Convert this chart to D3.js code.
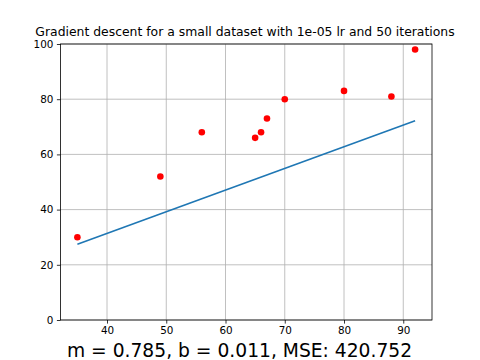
<!DOCTYPE html>
<html>
<head>
<meta charset="utf-8">
<script src="https://cdn.jsdelivr.net/npm/d3@7/dist/d3.min.js"></script>
<style>
  html, body { margin: 0; padding: 0; background: #fff; }
  svg { display: block; font-family: "DejaVu Sans", sans-serif; }
</style>
</head>
<body>
<svg id="chart" width="480" height="360"></svg>
<script>
// Data
var xs = [35, 49, 56, 65, 66, 67, 70, 80, 88, 92];
var ys = [30, 52, 68, 66, 68, 73, 80, 83, 81, 98];
var slope = 0.785, intercept = 0.011;
var xTicks = [40, 50, 60, 70, 80, 90];
var yTicks = [0, 20, 40, 60, 80, 100];
var titleText = 'Gradient descent for a small dataset with 1e-05 lr and 50 iterations';
var footText = 'm = 0.785, b = 0.011, MSE: 420.752';

var svg = d3.select('#chart');
var L = 60.5, R = 432, T = 44, B = 320;

// matplotlib-style 5% margins on x
var xMin = d3.min(xs), xMax = d3.max(xs), pad = (xMax - xMin) * 0.05;
var x = d3.scaleLinear().domain([xMin - pad, xMax + pad]).range([L, R]);
var y = d3.scaleLinear().domain([0, 100]).range([B, T]);

// grid
var grid = svg.append('g').attr('stroke', '#b0b0b0').attr('stroke-width', 0.8);
grid.selectAll('.gx').data(xTicks).enter().append('line')
  .attr('x1', function (d) { return x(d); }).attr('x2', function (d) { return x(d); })
  .attr('y1', T).attr('y2', B);
grid.selectAll('.gy').data(yTicks).enter().append('line')
  .attr('y1', function (d) { return y(d); }).attr('y2', function (d) { return y(d); })
  .attr('x1', L).attr('x2', R);

// axes
var xAxis = svg.append('g').attr('transform', 'translate(0,' + B + ')')
  .call(d3.axisBottom(x).tickValues(xTicks).tickSize(3.6).tickPadding(3.5));
var yAxis = svg.append('g').attr('transform', 'translate(' + L + ',0)')
  .call(d3.axisLeft(y).tickValues(yTicks).tickSize(3.6).tickPadding(3.5));
[xAxis, yAxis].forEach(function (a) {
  a.select('.domain').remove();
  a.selectAll('line').attr('stroke', '#000').attr('stroke-width', 0.8);
  a.selectAll('text').attr('font-size', 10.4).attr('fill', '#000')
    .attr('font-family', '"DejaVu Sans", sans-serif');
});

// regression line
svg.append('path')
  .datum([xMin, xMax])
  .attr('d', d3.line().x(function (d) { return x(d); }).y(function (d) { return y(slope * d + intercept); }))
  .attr('fill', 'none').attr('stroke', '#1f77b4').attr('stroke-width', 1.6);

// points
svg.append('g').selectAll('circle').data(xs).enter().append('circle')
  .attr('cx', function (d) { return x(d); })
  .attr('cy', function (d, i) { return y(ys[i]); })
  .attr('r', 3.3).attr('fill', '#ff0000');

// frame
svg.append('rect').attr('x', L).attr('y', T).attr('width', R - L).attr('height', B - T)
  .attr('fill', 'none').attr('stroke', '#000').attr('stroke-width', 0.8);

// title
svg.append('text').attr('x', 245).attr('y', 36)
  .attr('text-anchor', 'middle').attr('font-size', 12.4).text(titleText);

// bottom label
svg.append('text').attr('x', 239.5).attr('y', 356.5)
  .attr('text-anchor', 'middle').attr('font-size', 18.7).text(footText);
</script>
</body>
</html>
